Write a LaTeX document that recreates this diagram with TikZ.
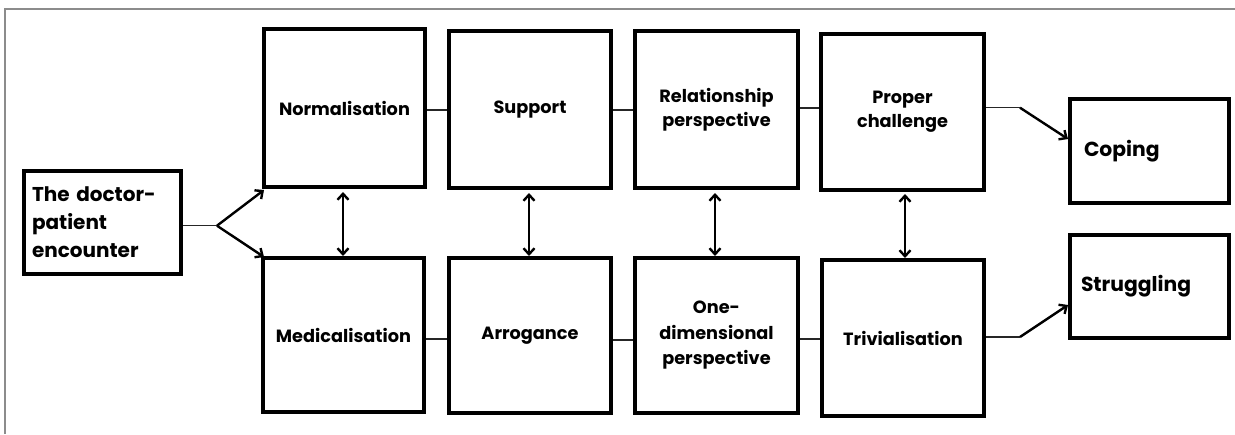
\documentclass[tikz,border=0pt]{standalone}
\usepackage{fontspec}
\setmainfont{Poppins}
\usetikzlibrary{arrows.meta}
\begin{document}
\begin{tikzpicture}[x=1pt,y=-1pt,
  box/.style={draw=black,line width=4pt,inner sep=0pt,font=\bfseries\fontsize{17.7}{24}\selectfont,align=center},
  leftbox/.style={draw=black,line width=4pt,align=left,inner ysep=0pt},
  thin/.style={line width=1.5pt,black!85},
  arr/.style={line width=2.4pt,-{Straight Barb[length=6pt,width=11pt,line width=2.4pt]}},
  dbl/.style={line width=2.4pt,{Straight Barb[length=6pt,width=11pt,line width=2.4pt]}-{Straight Barb[length=6pt,width=11pt,line width=2.4pt]}},
]
\useasboundingbox (0,0) rectangle (1235,434);
\draw[line width=1.2pt,black!45] (5,434) -- (5,9) -- (1235,9);

\node[leftbox,minimum width=157pt,minimum height=103pt,text width=141pt,inner xsep=8pt,font=\bfseries\fontsize{20}{28}\selectfont] (doc) at (102.5,222.5) {The doctor-\\patient\\encounter};

\node[box,minimum width=161pt,minimum height=158pt] (norm) at (344.5,108) {Normalisation};
\node[box,minimum width=161pt,minimum height=154pt] (med) at (343.5,335) {Medicalisation};
\node[box,minimum width=162pt,minimum height=157pt] (sup) at (530,109.5) {Support};
\node[box,minimum width=162pt,minimum height=155pt] (arro) at (530,335.5) {Arrogance};
\node[box,minimum width=163pt,minimum height=157pt] (rel) at (716.5,109.5) {Relationship\\perspective};
\node[box,minimum width=163pt,minimum height=155pt,font=\bfseries\fontsize{17.7}{25.5}\selectfont] (one) at (716.5,335.5) {One-\\dimensional\\perspective};
\node[box,minimum width=163pt,minimum height=156pt] (prop) at (902.5,112) {Proper\\challenge};
\node[box,minimum width=162pt,minimum height=156pt] (triv) at (903,338) {Trivialisation};

\node[leftbox,minimum width=159pt,minimum height=104pt,text width=131pt,inner xsep=14pt,font=\bfseries\fontsize{20.3}{24}\selectfont] (cop) at (1149.5,151) {Coping};
\node[leftbox,minimum width=159pt,minimum height=103pt,text width=137pt,inner xsep=11pt,font=\bfseries\fontsize{20.3}{24}\selectfont] (str) at (1149.5,286.5) {Struggling};

% fork from doctor
\coordinate (fork) at (217,225.7);
\draw[thin] (doc.east |- fork) -- (fork);
\draw[arr] (fork) -- ([shift={(2pt,-1pt)}]norm.south west);
\draw[arr] (fork) -- ([shift={(3pt,-1pt)}]med.north west);

% top row
\draw[thin] (norm.east |- 0,110) -- (sup.west |- 0,110);
\draw[thin] (sup.east |- 0,110) -- (rel.west |- 0,110);
\draw[thin] (rel.east |- 0,108) -- (prop.west |- 0,108);
% bottom row
\draw[thin] (med.east |- 0,339) -- (arro.west |- 0,339);
\draw[thin] (arro.east |- 0,340) -- (one.west |- 0,340);
\draw[thin] (one.east |- 0,339) -- (triv.west |- 0,339);

% verticals
\coordinate (v1) at (343,0);
\coordinate (v2) at (529,0);
\coordinate (v3) at (715,0);
\coordinate (v4) at (905,0);
\draw[dbl,shorten <=3pt] (v1 |- norm.south) -- (v1 |- med.north);
\draw[dbl,shorten <=3pt] (v2 |- sup.south) -- (v2 |- arro.north);
\draw[dbl,shorten <=3pt] (v3 |- rel.south) -- (v3 |- one.north);
\draw[dbl,shorten <=2pt] (v4 |- prop.south) -- (v4 |- triv.north);

% outcomes
\coordinate (c1) at (1020,107.7);
\coordinate (c2) at (1020,337);
\draw[thin] (prop.east |- c1) -- (c1);
\draw[arr] (c1) -- (cop.west |- 0,139);
\draw[thin] (triv.east |- c2) -- (c2);
\draw[arr] (c2) -- (str.west |- 0,305);
\end{tikzpicture}
\end{document}
